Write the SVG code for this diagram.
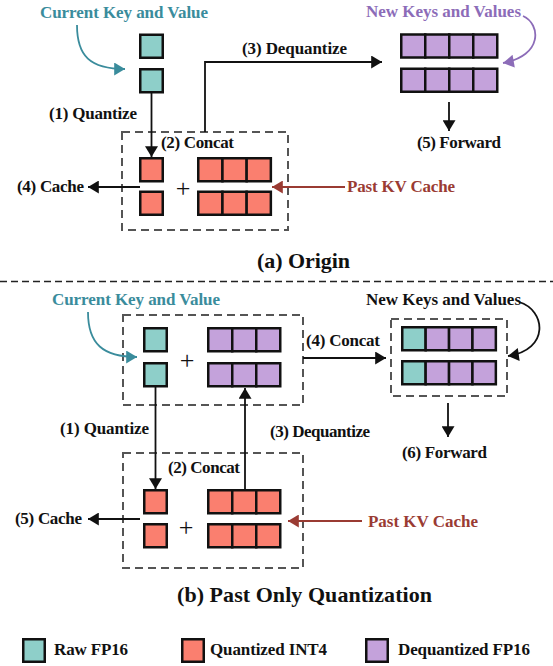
<svg xmlns="http://www.w3.org/2000/svg" width="553" height="666" viewBox="0 0 553 666">
  <defs>
    <style>
      .lbl { font-family: "Liberation Serif", "Times New Roman", serif; font-weight: bold; font-size: 17px; fill: #111; }
      .title { font-family: "Liberation Serif", "Times New Roman", serif; font-weight: bold; font-size: 22px; fill: #111; }
      .plus { font-family: "Liberation Serif", "Times New Roman", serif; font-size: 26px; fill: #111; text-anchor: middle; }
      .teal-t { fill: #3A8C9C; }
      .purple-t { fill: #8C6CB8; }
      .brown-t { fill: #9A3B33; }
      .raw { fill: #8ECFC9; stroke: #111; stroke-width: 2.5; }
      .q4 { fill: #FA7F6F; stroke: #111; stroke-width: 2.5; }
      .dq { fill: #C4A2DB; stroke: #111; stroke-width: 2.5; }
      .group { fill: none; stroke: #555; stroke-width: 2; stroke-dasharray: 8 5; }
      .wire { fill: none; stroke: #111; stroke-width: 1.8; }
      .wire-teal { fill: none; stroke: #3A8C9C; stroke-width: 1.8; }
      .wire-purple { fill: none; stroke: #8C6CB8; stroke-width: 1.8; }
      .wire-brown { fill: none; stroke: #9A3B33; stroke-width: 1.8; }
    </style>
    <marker id="arr" markerUnits="userSpaceOnUse" markerWidth="13" markerHeight="13" viewBox="0 0 10 12" refX="10" refY="6" orient="auto">
      <path d="M0,0 L10,6 L0,12 z" fill="#111"/>
    </marker>
    <marker id="arr-teal" markerUnits="userSpaceOnUse" markerWidth="13" markerHeight="13" viewBox="0 0 10 12" refX="10" refY="6" orient="auto">
      <path d="M0,0 L10,6 L0,12 z" fill="#3A8C9C"/>
    </marker>
    <marker id="arr-purple" markerUnits="userSpaceOnUse" markerWidth="13" markerHeight="13" viewBox="0 0 10 12" refX="10" refY="6" orient="auto">
      <path d="M0,0 L10,6 L0,12 z" fill="#8C6CB8"/>
    </marker>
    <marker id="arr-brown" markerUnits="userSpaceOnUse" markerWidth="13" markerHeight="13" viewBox="0 0 10 12" refX="10" refY="6" orient="auto">
      <path d="M0,0 L10,6 L0,12 z" fill="#9A3B33"/>
    </marker>
  </defs>

  <rect x="0" y="0" width="553" height="666" fill="#fff"/>

  <!-- ===== (a) Origin ===== -->
  <g id="a-current-kv">
    <text class="lbl teal-t" x="40" y="18" textLength="168">Current Key and Value</text>
    <rect class="raw" x="140.25" y="34.75" width="22.5" height="23"/>
    <rect class="raw" x="140.25" y="69.25" width="22.5" height="23"/>
  </g>

  <g id="a-concat-box">
    <rect class="group" x="122" y="132" width="166" height="98"/>
    <text class="lbl" x="161" y="148" textLength="73">(2) Concat</text>
    <rect class="q4" x="140.25" y="158.25" width="22.5" height="23"/>
    <rect class="q4" x="140.25" y="191.75" width="22.5" height="23"/>
    <text class="plus" x="183" y="197">+</text>
    <g id="a-past-int4">
      <rect class="q4" x="198.25" y="158.25" width="24.2" height="23"/>
      <rect class="q4" x="222.45" y="158.25" width="24.2" height="23"/>
      <rect class="q4" x="246.65" y="158.25" width="24.2" height="23"/>
      <rect class="q4" x="198.25" y="191.75" width="24.2" height="23"/>
      <rect class="q4" x="222.45" y="191.75" width="24.2" height="23"/>
      <rect class="q4" x="246.65" y="191.75" width="24.2" height="23"/>
    </g>
  </g>

  <g id="a-new-kv">
    <text class="lbl purple-t" x="366" y="17" textLength="155">New Keys and Values</text>
    <rect class="dq" x="401.25" y="34.5" width="24" height="23"/>
    <rect class="dq" x="425.25" y="34.5" width="24" height="23"/>
    <rect class="dq" x="449.25" y="34.5" width="24" height="23"/>
    <rect class="dq" x="473.25" y="34.5" width="24" height="23"/>
    <rect class="dq" x="401.25" y="68.75" width="24" height="23"/>
    <rect class="dq" x="425.25" y="68.75" width="24" height="23"/>
    <rect class="dq" x="449.25" y="68.75" width="24" height="23"/>
    <rect class="dq" x="473.25" y="68.75" width="24" height="23"/>
  </g>

  <g id="a-labels">
    <text class="lbl" x="49" y="119" textLength="88">(1) Quantize</text>
    <text class="lbl" x="242" y="54" textLength="105">(3) Dequantize</text>
    <text class="lbl" x="17" y="192" textLength="67">(4) Cache</text>
    <text class="lbl brown-t" x="347" y="192" textLength="108">Past KV Cache</text>
    <text class="lbl" x="417" y="148" textLength="84">(5) Forward</text>
  </g>

  <text class="title" x="257" y="268" textLength="93">(a) Origin</text>

  <!-- separator between the two panels -->
  <line x1="0" y1="281.5" x2="553" y2="281.5" stroke="#222" stroke-width="1.3" stroke-dasharray="7 4"/>

  <!-- ===== (b) Past Only Quantization ===== -->
  <g id="b-current-box">
    <text class="lbl teal-t" x="52" y="305" textLength="168">Current Key and Value</text>
    <rect class="group" x="123" y="315" width="180" height="90"/>
    <rect class="raw" x="144.25" y="328.25" width="22.5" height="23"/>
    <rect class="raw" x="144.25" y="363.25" width="22.5" height="23"/>
    <text class="plus" x="187" y="369">+</text>
    <g id="b-dequant-fp16">
      <rect class="dq" x="208.25" y="328.25" width="24" height="23"/>
      <rect class="dq" x="232.25" y="328.25" width="24" height="23"/>
      <rect class="dq" x="256.25" y="328.25" width="24" height="23"/>
      <rect class="dq" x="208.25" y="363.25" width="24" height="23"/>
      <rect class="dq" x="232.25" y="363.25" width="24" height="23"/>
      <rect class="dq" x="256.25" y="363.25" width="24" height="23"/>
    </g>
  </g>

  <g id="b-new-kv">
    <text class="lbl" x="366" y="305" textLength="155">New Keys and Values</text>
    <rect class="group" x="391" y="319" width="116" height="77"/>
    <rect class="raw" x="402.25" y="327.25" width="23.4" height="23"/>
    <rect class="dq" x="425.65" y="327.25" width="23.4" height="23"/>
    <rect class="dq" x="449.05" y="327.25" width="23.4" height="23"/>
    <rect class="dq" x="472.45" y="327.25" width="23.4" height="23"/>
    <rect class="raw" x="402.25" y="361.25" width="23.4" height="23"/>
    <rect class="dq" x="425.65" y="361.25" width="23.4" height="23"/>
    <rect class="dq" x="449.05" y="361.25" width="23.4" height="23"/>
    <rect class="dq" x="472.45" y="361.25" width="23.4" height="23"/>
  </g>

  <g id="b-concat-box">
    <rect class="group" x="123" y="453" width="180" height="115"/>
    <text class="lbl" x="168" y="473" textLength="72">(2) Concat</text>
    <rect class="q4" x="144.25" y="490.25" width="22.5" height="23"/>
    <rect class="q4" x="144.25" y="524.25" width="22.5" height="23"/>
    <text class="plus" x="186" y="536">+</text>
    <g id="b-past-int4">
      <rect class="q4" x="208.25" y="490.25" width="24" height="23"/>
      <rect class="q4" x="232.25" y="490.25" width="24" height="23"/>
      <rect class="q4" x="256.25" y="490.25" width="24" height="23"/>
      <rect class="q4" x="208.25" y="524.25" width="24" height="23"/>
      <rect class="q4" x="232.25" y="524.25" width="24" height="23"/>
      <rect class="q4" x="256.25" y="524.25" width="24" height="23"/>
    </g>
  </g>

  <g id="b-labels">
    <text class="lbl" x="306" y="346" textLength="74">(4) Concat</text>
    <text class="lbl" x="60" y="434" textLength="89">(1) Quantize</text>
    <text class="lbl" x="270" y="437" textLength="100">(3) Dequantize</text>
    <text class="lbl" x="402" y="458" textLength="85">(6) Forward</text>
    <text class="lbl" x="15" y="524" textLength="67">(5) Cache</text>
    <text class="lbl brown-t" x="368" y="527" textLength="110">Past KV Cache</text>
  </g>

  <text class="title" x="177" y="602" textLength="255">(b) Past Only Quantization</text>

  <!-- connectors -->
  <g id="connectors">
    <!-- (a) -->
    <path class="wire-teal" d="M77,25 C77,56 90,69 125,69" marker-end="url(#arr-teal)"/>
    <path class="wire" d="M151.5,92.5 L151.5,157" marker-end="url(#arr)"/>
    <path class="wire" d="M205,132 L205,62 L382,62" marker-end="url(#arr)"/>
    <path class="wire" d="M140,187 L88,187" marker-end="url(#arr)"/>
    <path class="wire-brown" d="M345,187 L272,187" marker-end="url(#arr-brown)"/>
    <path class="wire-purple" d="M523,16 C541,24 543,56 503,63" marker-end="url(#arr-purple)"/>
    <path class="wire" d="M449,102 L449,131" marker-end="url(#arr)"/>
    <!-- (b) -->
    <path class="wire-teal" d="M88,312 C88,344 103,357 137,357" marker-end="url(#arr-teal)"/>
    <path class="wire" d="M155.5,387 L155.5,489" marker-end="url(#arr)"/>
    <path class="wire" d="M245,489 L245,388" marker-end="url(#arr)"/>
    <path class="wire" d="M303,358 L386,358" marker-end="url(#arr)"/>
    <path class="wire" d="M519,302 C546,310 550,350 508,356" marker-end="url(#arr)"/>
    <path class="wire" d="M448,403 L448,437" marker-end="url(#arr)"/>
    <path class="wire" d="M140,519 L88,519" marker-end="url(#arr)"/>
    <path class="wire-brown" d="M362,521 L288,521" marker-end="url(#arr-brown)"/>
  </g>

  <!-- legend -->
  <g id="legend">
    <rect class="raw" x="23.25" y="639.25" width="21.5" height="22.5"/>
    <text class="lbl" x="54" y="655" textLength="74">Raw FP16</text>
    <rect class="q4" x="182.25" y="639.25" width="21.5" height="22.5"/>
    <text class="lbl" x="210" y="655" textLength="117">Quantized INT4</text>
    <rect class="dq" x="366.25" y="639.25" width="21.5" height="22.5"/>
    <text class="lbl" x="398" y="655" textLength="132">Dequantized FP16</text>
  </g>
</svg>
